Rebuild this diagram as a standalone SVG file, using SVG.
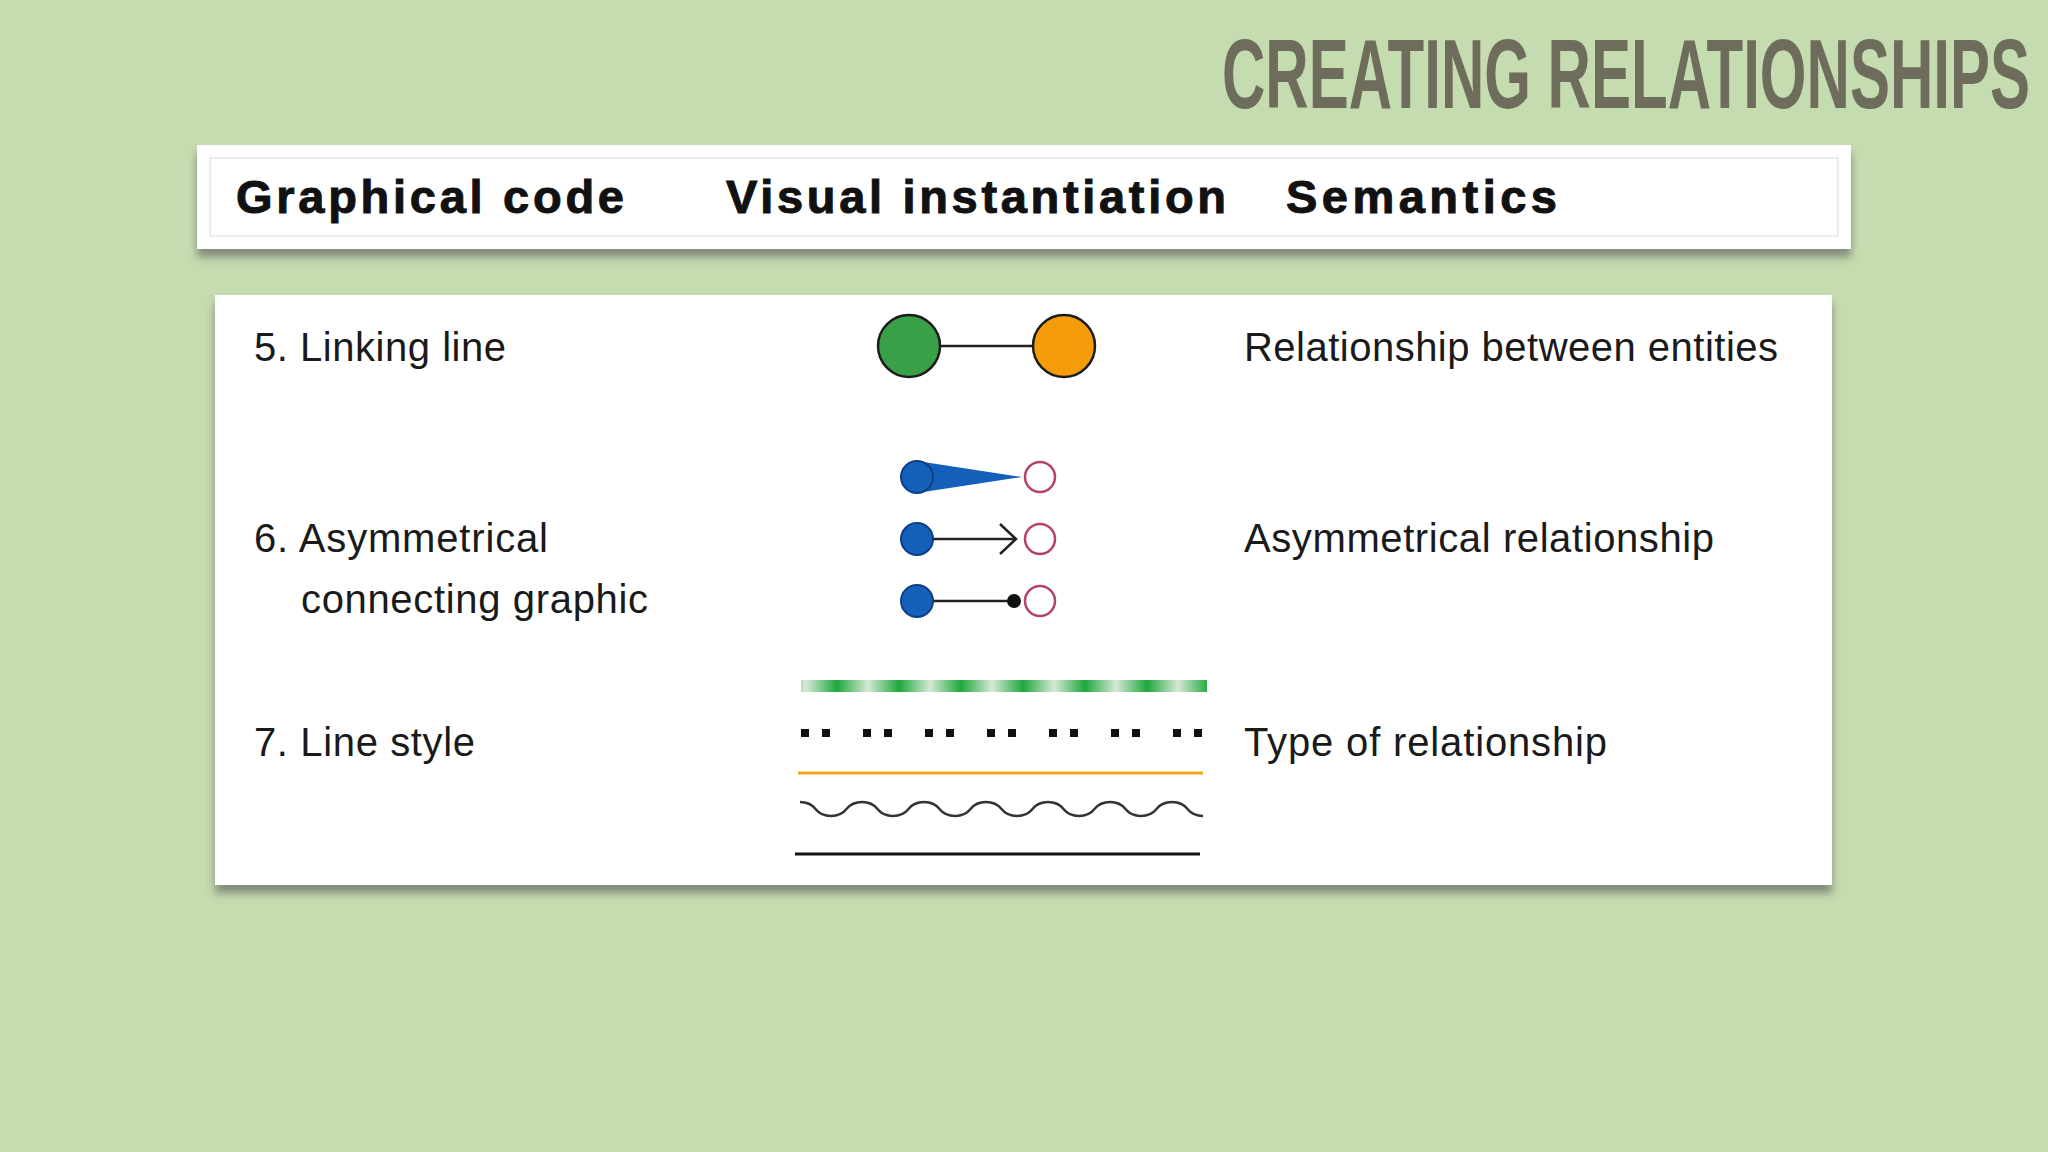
<svg xmlns="http://www.w3.org/2000/svg" width="2048" height="1152" viewBox="0 0 2048 1152">
<defs>
<style>
.h{font-family:"Liberation Sans",Arial,sans-serif;font-weight:bold;font-size:47px;fill:#111;stroke:#111;stroke-width:1}
.t{font-family:"Liberation Sans",Arial,sans-serif;font-size:40px;fill:#1a1a1a}
.pink{fill:#fff;stroke:#b5416e;stroke-width:2.5}
.blue{fill:#1560b8;stroke:#0d3f86;stroke-width:2}
</style>
<linearGradient id="gs" x1="0" x2="62" y1="0" y2="0" gradientUnits="userSpaceOnUse" spreadMethod="repeat">
<stop offset="0" stop-color="#d6e8d6"/><stop offset="0.5" stop-color="#1ea83c"/><stop offset="1" stop-color="#d6e8d6"/>
</linearGradient>
<filter id="sh" x="-5%" y="-5%" width="110%" height="130%"><feDropShadow dx="0" dy="8" stdDeviation="4" flood-color="#555" flood-opacity="0.6"/></filter>
</defs>
<rect width="2048" height="1152" fill="#c5dbb0"/>
<text x="2030" y="108" text-anchor="end" font-family="Liberation Sans,Arial,sans-serif" font-weight="bold" font-size="98" fill="#6e6d5c" textLength="808" lengthAdjust="spacingAndGlyphs">CREATING RELATIONSHIPS</text>
<g id="header">
<rect x="197" y="145" width="1654" height="104" fill="#fff" filter="url(#sh)"/>
<rect x="210" y="158" width="1628" height="78" fill="none" stroke="#e6e6e6" stroke-width="1.5"/>
<text class="h" x="236" y="213" textLength="388">Graphical code</text>
<text class="h" x="726" y="213" textLength="500">Visual instantiation</text>
<text class="h" x="1286" y="213" textLength="271">Semantics</text>
</g>
<g id="panel">
<rect x="215" y="295" width="1617" height="590" fill="#fff" filter="url(#sh)"/>
</g>
<g id="row5">
<text class="t" x="254" y="361" textLength="252">5. Linking line</text>
<text class="t" x="1244" y="361" textLength="534">Relationship between entities</text>
<line x1="909" y1="346" x2="1064" y2="346" stroke="#222" stroke-width="2.5"/>
<circle cx="909" cy="346" r="31" fill="#3aa047" stroke="#1c1c1c" stroke-width="2.5"/>
<circle cx="1064" cy="346" r="31" fill="#f59c0b" stroke="#1c1c1c" stroke-width="2.5"/>
</g>
<g id="row6">
<text class="t" x="254" y="552" textLength="294">6. Asymmetrical</text>
<text class="t" x="301" y="613" textLength="347">connecting graphic</text>
<text class="t" x="1244" y="552" textLength="470">Asymmetrical relationship</text>
<path d="M917,461 L1022,477 L917,493 Z" fill="#1560b8"/>
<circle class="blue" cx="917" cy="477" r="16"/>
<circle class="pink" cx="1040" cy="477" r="15"/>
<line x1="917" y1="539" x2="1016" y2="539" stroke="#222" stroke-width="2.5"/>
<path d="M1000,524 L1016,539 L1000,554" fill="none" stroke="#222" stroke-width="2.5"/>
<circle class="blue" cx="917" cy="539" r="16"/>
<circle class="pink" cx="1040" cy="539" r="15"/>
<line x1="917" y1="601" x2="1012" y2="601" stroke="#222" stroke-width="2.5"/>
<circle cx="1014" cy="601" r="7" fill="#111"/>
<circle class="blue" cx="917" cy="601" r="16"/>
<circle class="pink" cx="1040" cy="601" r="15"/>
</g>
<g id="row7">
<text class="t" x="254" y="756" textLength="221">7. Line style</text>
<text class="t" x="1244" y="756" textLength="363">Type of relationship</text>
<rect x="801" y="680" width="406" height="12" fill="url(#gs)"/>
<line x1="801" y1="733" x2="1206" y2="733" stroke="#111" stroke-width="8" stroke-dasharray="8,13,8,33"/>
<line x1="798" y1="773" x2="1203" y2="773" stroke="#f0a81a" stroke-width="3"/>
<path d="M800,802 q10,0 15.5,7 t15.5,7 t15.5,-7 t15.5,-7 t15.5,7 t15.5,7 t15.5,-7 t15.5,-7 t15.5,7 t15.5,7 t15.5,-7 t15.5,-7 t15.5,7 t15.5,7 t15.5,-7 t15.5,-7 t15.5,7 t15.5,7 t15.5,-7 t15.5,-7 t15.5,7 t15.5,7 t15.5,-7 t15.5,-7 t15.5,7 t15.5,7" fill="none" stroke="#333" stroke-width="2.5"/>
<line x1="795" y1="854" x2="1200" y2="854" stroke="#111" stroke-width="3"/>
</g>
</svg>
